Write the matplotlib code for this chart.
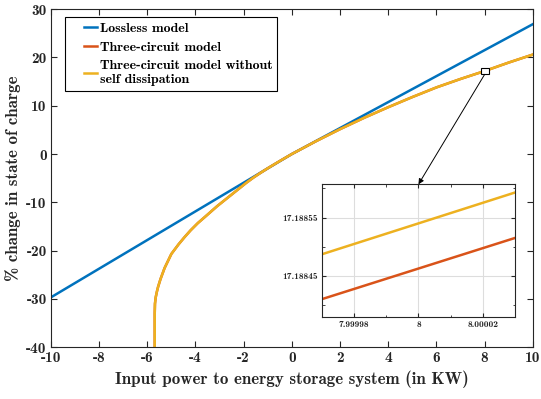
import matplotlib
matplotlib.use("Agg")
from matplotlib import pyplot as plt
from matplotlib.patches import Rectangle, ConnectionPatch
from matplotlib.legend_handler import HandlerLine2D
from matplotlib.lines import Line2D

plt.rcParams['font.family'] = ['cmb10', 'DejaVu Serif']
plt.rcParams['axes.unicode_minus'] = False

# lossless model
x_lossless = [-10, -5, 0, 5, 10]
y_lossless = [-29.7, -14.85, 0, 13.45, 26.9]

# three-circuit models
x_three = [-5.69, -5.69, -5.68, -5.65, -5.6, -5.55, -5.45, -5.28, -5.0, -4.7, -4.45,
           -4.2, -3.9, -3.6, -3.35, -3.1, -2.8, -2.5, -2.2, -1.9, -1.6, -1.3,
           -1.0, -0.5, 0, 1, 2, 3, 4, 5, 6, 7, 8, 9, 10]
y_three = [-40, -33, -31, -29.7, -28.5, -27.5, -25.9, -23.6, -20.7, -18.7, -17.2,
           -15.8, -14.3, -13.0, -11.9, -10.8, -9.6, -8.4, -7.2, -6.0, -4.9, -3.9,
           -2.95, -1.45, 0, 2.65, 5.15, 7.5, 9.7, 11.8, 13.8, 15.55, 17.19, 18.95, 20.6]
y_nodiss = y_three

# zoomed values around x = 8
x_zoom = [7.99997, 8.00003]
y_zoom_three = [17.18841, 17.188515]
y_zoom_nodiss = [17.188487, 17.188593]

blue = '#0072BD'
orange = '#D95319'
yellow = '#EDB120'
dark = '#262626'

fig = plt.figure(figsize=(5.41, 3.99), dpi=100)
ax = fig.add_axes([0.094, 0.130, 0.891, 0.847])

ax.plot(x_lossless, y_lossless, color=blue, lw=1.8, label='Lossless model')
ax.plot(x_three, y_three, color=orange, lw=1.8, label='Three-circuit model')
ax.plot(x_three, y_nodiss, color=yellow, lw=1.8,
        label='Three-circuit model without\nself dissipation')

ax.set_xlim(-10, 10)
ax.set_ylim(-40, 30)
ax.set_xticks(range(-10, 11, 2))
ax.set_yticks(range(-40, 31, 10))
ax.tick_params(direction='in', top=True, right=True, labelsize=11, colors=dark,
               length=4, pad=3)
for s in ax.spines.values():
    s.set_color(dark)
    s.set_linewidth(0.8)
ax.set_xlabel('Input power to energy storage system (in KW)', fontsize=12.2, color=dark)
ax.set_ylabel('% change in state of charge', fontsize=12.2, color=dark)

# matlab-style legend: short line sitting right next to the text
leg = ax.legend(loc='upper left', fontsize=10, numpoints=2, handlelength=3.0,
                handletextpad=-0.85, borderaxespad=0, borderpad=0.35, fancybox=False,
                edgecolor='black', framealpha=1, labelspacing=0.45,
                bbox_to_anchor=(0.029, 0.976),
                handler_map={Line2D: HandlerLine2D(marker_pad=1.0)})
leg.get_frame().set_linewidth(0.8)

# marker box at the zoom location
ax.add_patch(Rectangle((7.84, 16.5), 0.32, 1.35, fill=True, facecolor='white',
                       edgecolor='black', lw=0.8, zorder=5))

# inset
ins = fig.add_axes([0.595, 0.205, 0.357, 0.333])
ins.plot(x_zoom, y_zoom_three, color=orange, lw=1.8)
ins.plot(x_zoom, y_zoom_nodiss, color=yellow, lw=1.8)
ins.set_xlim(7.9999705, 8.0000298)
ins.set_ylim(17.188379, 17.188607)
ins.set_xticks([7.99998, 8, 8.00002])
ins.set_xticklabels(['7.99998', '8', '8.00002'])
ins.set_xticks([7.99997, 7.99999, 8.00001, 8.00003], minor=True)
ins.set_yticks([17.18845, 17.18855])
ins.set_yticklabels(['17.18845', '17.18855'])
ins.set_yticks([17.1884, 17.1885, 17.1886], minor=True)
ins.grid(True, which='major', color='#dddddd', lw=0.8)
ins.tick_params(which='both', direction='in', top=True, right=True, labelsize=6.8,
                colors=dark, pad=3)
ins.tick_params(which='major', length=3)
ins.tick_params(which='minor', length=1.8)
for s in ins.spines.values():
    s.set_color(dark)
    s.set_linewidth(0.8)

arrow = ConnectionPatch(xyA=(8, 16.5), coordsA=ax.transData,
                        xyB=(8, 17.188607), coordsB=ins.transData,
                        arrowstyle='-|>', mutation_scale=8, color='black', lw=0.7)
fig.add_artist(arrow)

fig.savefig('out.png', dpi=100)
